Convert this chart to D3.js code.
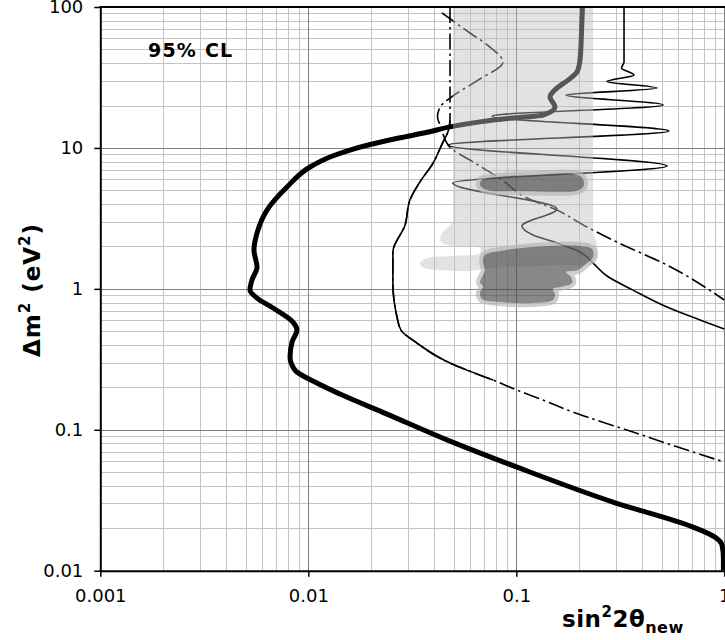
<!DOCTYPE html>
<html>
<head>
<meta charset="utf-8">
<script src="https://cdn.jsdelivr.net/npm/d3@7"></script>
<style>
  body { margin: 0; background: #fff; }
  svg { display: block; }
</style>
</head>
<body>
<script>
// ---- axis ticks ----
const xTicks = [0.001, 0.01, 0.1, 1];
const xTickLabels = ["0.001", "0.01", "0.1", "1"];
const yTicks = [0.01, 0.1, 1, 10, 100];
const yTickLabels = ["0.01", "0.1", "1", "10", "100"];

// ---- exclusion / sensitivity curves: [sin^2 2θ, Δm^2] ----
const thickCurve = [
  [0.208,100],[0.2058,65.4],[0.2024,42.1],[0.1958,34.6],[0.1772,30.3],[0.1569,26.6],
  [0.1452,22.96],[0.1535,19.5],[0.1344,17.1],[0.0964,16.3],[0.0669,15.3],[0.048,14.1],
  [0.0364,12.8],[0.0276,11.8],[0.01587,9.66],[0.0127,8.62],[0.01019,7.32],[0.0079,5.28],
  [0.00633,3.62],[0.00567,2.49],[0.00548,1.886],[0.00567,1.427],[0.00536,1.155],[0.00524,0.98],
  [0.00567,0.86],[0.00677,0.731],[0.00844,0.581],[0.00882,0.51],[0.00835,0.419],[0.00817,0.328],
  [0.00863,0.265],[0.011,0.2145],[0.0142,0.1792],[0.0239,0.1292],[0.048,0.0831],[0.1008,0.0543],
  [0.2916,0.0307],[0.707,0.0204],[0.902,0.0173],[0.975,0.0152],[0.99,0.0123],[0.99,0.01]
];

const curveA = [
  [0.048,100],[0.048,15.8],[0.0469,12.97],[0.0444,11.0],[0.0398,7.81],[0.0344,5.73],
  [0.0308,4.27],[0.0292,2.84],[0.0255,1.825],[0.0255,1.117],[0.0267,0.631],[0.0279,0.51],
  [0.0333,0.412],[0.048,0.2974],[0.0579,0.265],[0.0773,0.2253],[0.1008,0.1913],[0.1344,0.1625],
  [0.1873,0.1335],[0.364,0.0963],[0.6616,0.0718],[1,0.059]
];
// part of curve A drawn as a solid line
const curveASolid = curveA.slice(1, 16);

const curveB = [
  [0.3295,100],[0.3295,40.7],[0.3205,36.9],[0.368,32.9],[0.273,29.6],[0.4748,26.6],
  [0.1734,23.7],[0.5074,20.2],[0.0764,16.8],[0.542,13.18],[0.0469,10.5],[0.5303,7.44],
  [0.0496,5.64],[0.1569,3.69],[0.1065,2.79],[0.1203,2.41],[0.1569,2.114],[0.2024,1.825],
  [0.2338,1.524],[0.273,1.233],[0.364,0.98],[0.5303,0.743],[0.764,0.601],[1,0.518]
];

const curveC = [
  [0.0439,90.7],[0.0599,65.4],[0.0747,52.0],[0.0863,40.7],[0.0655,30.3],[0.048,22.6],
  [0.043,19.5],[0.0418,16.6],[0.0434,14.1],[0.0475,10.3],[0.0633,7.81],[0.0854,5.92],
  [0.1101,4.48],[0.1569,3.62],[0.2187,2.745],[0.3048,2.148],[0.5303,1.475],[1,0.833]
];

// ---- allowed regions ----
const allowedBand = [
  [0.0496,100],[0.2338,100],[0.2338,98],[0.2338,2.75],[0.2338,2.53],[0.2448,2.046],[0.2408,1.55],
  [0.1622,1.475],[0.0747,1.405],[0.0599,1.338],[0.043,1.359],[0.036,1.405],[0.0344,1.524],
  [0.0376,1.654],[0.048,1.71],[0.0669,1.795],[0.0669,1.948],[0.0573,1.98],[0.0469,2.046],
  [0.0434,2.148],[0.0434,2.41],[0.0459,2.657],[0.0496,2.98],[0.0496,3.2],[0.0496,98]
];
const islandUpper = [
  [0.0682,5.92],[0.0835,6.25],[0.1203,6.42],[0.1873,6.53],[0.2086,6.08],[0.21,5.30],
  [0.1952,4.97],[0.1452,4.89],[0.1004,4.94],[0.0721,5.02],[0.0669,5.45]
];
const islandLower = [
  [0.0707,1.738],[0.0835,1.855],[0.1203,1.98],[0.2024,2.013],[0.2312,1.917],[0.2338,1.682],
  [0.2187,1.524],[0.198,1.359],[0.1734,1.316],[0.1832,1.212],[0.1853,1.1],[0.1622,1.03],
  [0.1501,0.997],[0.1535,0.919],[0.1501,0.833],[0.1203,0.793],[0.0835,0.806],[0.0684,0.846],
  [0.0669,0.949],[0.0692,1.03],[0.0669,1.117],[0.0692,1.253],[0.0707,1.359],[0.0692,1.55]
];

// ---- layout ----
const W = 725, H = 640;
const plot = { left: 100.3, right: 724.3, top: 7, bottom: 570.7 };
const FONT = "'DejaVu Sans', Verdana, sans-serif";

const x = d3.scaleLog().domain([0.001, 1]).range([plot.left, plot.right]);
const y = d3.scaleLog().domain([0.01, 100]).range([plot.bottom, plot.top]);

const svg = d3.select("body").append("svg").attr("width", W).attr("height", H);

svg.append("defs").append("clipPath").attr("id", "plotClip")
  .append("rect")
  .attr("x", plot.left).attr("y", plot.top)
  .attr("width", W - plot.left).attr("height", plot.bottom - plot.top);

// ---- grid ----
const isDecade = v => Math.abs(Math.log10(v) - Math.round(Math.log10(v))) < 1e-6;
const crisp = v => Math.round(v) + 0.5;
const grid = svg.append("g");
const xg = x.ticks(), yg = y.ticks();
[false, true].forEach(major => {
  xg.filter(v => isDecade(v) === major).forEach(v => {
    grid.append("line")
      .attr("x1", crisp(x(v))).attr("x2", crisp(x(v)))
      .attr("y1", plot.top).attr("y2", plot.bottom)
      .attr("stroke", major ? "#808080" : "#c4c4c4").attr("stroke-width", 1);
  });
  yg.filter(v => isDecade(v) === major).forEach(v => {
    grid.append("line")
      .attr("y1", crisp(y(v))).attr("y2", crisp(y(v)))
      .attr("x1", plot.left).attr("x2", plot.right)
      .attr("stroke", major ? "#808080" : "#c4c4c4").attr("stroke-width", 1);
  });
});

// ---- curves ----
const line = d3.line().x(d => x(d[0])).y(d => y(d[1])).curve(d3.curveMonotoneY);
const curves = svg.append("g").attr("clip-path", "url(#plotClip)").attr("fill", "none");
const dashDot = "16,4,2.5,4";

curves.append("path").attr("d", line(curveC))
  .attr("stroke", "#000").attr("stroke-width", 1.6).attr("stroke-dasharray", dashDot);
curves.append("path").attr("d", line(curveA))
  .attr("stroke", "#000").attr("stroke-width", 1.6).attr("stroke-dasharray", dashDot);
curves.append("path").attr("d", line(curveASolid))
  .attr("stroke", "#000").attr("stroke-width", 1.6);
curves.append("path").attr("d", line(curveB))
  .attr("stroke", "#000").attr("stroke-width", 1.6);
curves.append("path").attr("d", line(thickCurve))
  .attr("stroke", "#000").attr("stroke-width", 5).attr("stroke-linejoin", "round");

// ---- allowed regions (translucent, drawn over the curves) ----
const area = d3.line().x(d => x(d[0])).y(d => y(d[1])).curve(d3.curveCatmullRomClosed.alpha(0.5));
const regions = svg.append("g").attr("clip-path", "url(#plotClip)");
regions.append("path").attr("d", area(allowedBand))
  .attr("fill", "rgb(190,190,190)").attr("fill-opacity", 0.45);
[islandUpper, islandLower].forEach(pts => {
  const g = regions.append("g").attr("opacity", 0.65);
  g.append("path").attr("d", area(pts))
    .attr("fill", "rgb(180,180,180)").attr("stroke", "rgb(180,180,180)")
    .attr("stroke-width", 8).attr("stroke-linejoin", "round");
  g.append("path").attr("d", area(pts)).attr("fill", "#4a4a4a");
});

// ---- axes ----
const xAxis = d3.axisBottom(x).tickValues(xTicks)
  .tickFormat((d, i) => xTickLabels[i]).tickSize(6).tickSizeOuter(0).tickPadding(13);
const yAxis = d3.axisLeft(y).tickValues(yTicks)
  .tickFormat((d, i) => yTickLabels[i]).tickSize(6).tickSizeOuter(0).tickPadding(11);

const gx = svg.append("g").attr("transform", `translate(0,${plot.bottom})`).call(xAxis);
const gy = svg.append("g").attr("transform", `translate(${plot.left},0)`).call(yAxis);
[gx, gy].forEach(g => {
  g.attr("font-family", FONT).attr("font-size", 18);
  g.select(".domain").attr("stroke", "#000").attr("stroke-width", 2);
  g.selectAll(".tick line").attr("stroke", "#000").attr("stroke-width", 1.5);
  g.selectAll(".tick text").attr("fill", "#000");
});

// top frame
svg.append("line")
  .attr("x1", plot.left - 1).attr("x2", W).attr("y1", plot.top).attr("y2", plot.top)
  .attr("stroke", "#000").attr("stroke-width", 2);

// ---- labels ----
svg.append("text")
  .attr("x", 148).attr("y", 57)
  .attr("font-family", FONT).attr("font-size", 19).attr("font-weight", "bold")
  .attr("letter-spacing", 1.2)
  .text("95% CL");

const yTitle = svg.append("text")
  .attr("transform", "translate(40,290) rotate(-90)")
  .attr("text-anchor", "middle")
  .attr("font-family", FONT).attr("font-size", 23).attr("font-weight", "bold")
  .attr("letter-spacing", 1);
yTitle.append("tspan").text("Δm");
yTitle.append("tspan").attr("dy", -10).attr("font-size", 15).text("2");
yTitle.append("tspan").attr("dy", 10).text(" (eV");
yTitle.append("tspan").attr("dy", -10).attr("font-size", 15).text("2");
yTitle.append("tspan").attr("dy", 10).text(")");

const xTitle = svg.append("text")
  .attr("x", 562).attr("y", 627)
  .attr("font-family", FONT).attr("font-size", 23).attr("font-weight", "bold")
  .attr("letter-spacing", 0.5);
xTitle.append("tspan").text("sin");
xTitle.append("tspan").attr("dy", -10).attr("font-size", 15).text("2");
xTitle.append("tspan").attr("dy", 10).text("2θ");
xTitle.append("tspan").attr("dy", 6).attr("font-size", 16).text("new");
</script>
</body>
</html>
